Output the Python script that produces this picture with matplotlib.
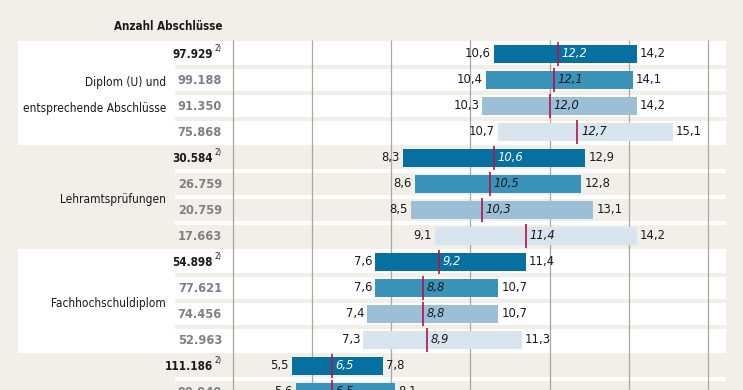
import matplotlib.pyplot as plt
from matplotlib.patches import Rectangle

# Daten (Alter in Jahren: Minimum, Median, Maximum)
counts = ['97.929', '99.188', '91.350', '75.868',
          '30.584', '26.759', '20.759', '17.663',
          '54.898', '77.621', '74.456', '52.963',
          '111.186', '99.940']
footnote_rows = [0, 4, 8, 12]
lows = [10.6, 10.4, 10.3, 10.7, 8.3, 8.6, 8.5, 9.1, 7.6, 7.6, 7.4, 7.3, 5.5, 5.6]
medians = [12.2, 12.1, 12.0, 12.7, 10.6, 10.5, 10.3, 11.4, 9.2, 8.8, 8.8, 8.9, 6.5, 6.5]
highs = [14.2, 14.1, 14.2, 15.1, 12.9, 12.8, 13.1, 14.2, 11.4, 10.7, 10.7, 11.3, 7.8, 8.1]
groups = [['Diplom (U) und', 'entsprechende Abschlüsse'],
          ['Lehramtsprüfungen'],
          ['Fachhochschuldiplom'],
          []]
header = 'Anzahl Abschlüsse'
grid_ticks = [4, 6, 8, 10, 12, 14, 16]

bg = '#f2efe9'
bar_colors = ['#0670a1', '#3a94ba', '#9bbfd6', '#d8e5ef']
median_color = '#b8104a'
grid_color = '#aaa7a2'

W, H = 743, 390
fig = plt.figure(figsize=(W / 100, H / 100), dpi=100, facecolor=bg)
ax = fig.add_axes([0, 0, 1, 1])
ax.set_facecolor(bg)
ax.axis('off')

# pixel -> data helpers (4 sits at x=232.7px, 39.63px per year; rows 26px apart, first at y=54px)
def xv(px):
    return 4 + (px - 232.7) / 39.63

def yv(py):
    return (py - 54) / 26.0

ax.set_xlim(xv(0), xv(W))
ax.set_ylim(yv(H), yv(0))

font = dict(family=['Liberation Sans Narrow', 'DejaVu Sans'], fontstretch='condensed')
fs = 9.3
n = len(lows)

# group panels and row separators
for g in range(4):
    top = 4 * g - 0.5
    panel = 'white' if g % 2 == 0 else bg
    sep = bg if g % 2 == 0 else 'white'
    ax.add_patch(Rectangle((xv(18), top), xv(726) - xv(18), 4, color=panel, zorder=0, lw=0))
    for k in range(1, 4):
        ax.add_patch(Rectangle((xv(175), top + k - 0.06), xv(726) - xv(175), 0.12,
                               color=sep, zorder=0.5, lw=0))

ax.vlines(grid_ticks, yv(40), yv(H), color=grid_color, lw=0.9, zorder=1)

for i in range(n):
    c = bar_colors[i % 4]
    ax.barh(i, highs[i] - lows[i], left=lows[i], height=0.69, color=c, zorder=2)
    ax.vlines(medians[i], i - 0.47, i + 0.47, color=median_color, lw=1.2, zorder=3)
    ax.text(lows[i] - 0.08, i, f'{lows[i]:.1f}'.replace('.', ','), ha='right', va='center',
            fontsize=fs, color='#1a1a1a', zorder=4, **font)
    ax.text(highs[i] + 0.08, i, f'{highs[i]:.1f}'.replace('.', ','), ha='left', va='center',
            fontsize=fs, color='#1a1a1a', zorder=4, **font)
    ax.text(medians[i] + 0.09, i, f'{medians[i]:.1f}'.replace('.', ','), ha='left', va='center',
            fontsize=fs, style='italic', color='white' if i % 4 == 0 else '#1a1a1a',
            zorder=4, **font)
    if i in footnote_rows:
        ax.text(xv(213), i, counts[i], ha='right', va='center', fontsize=8.4,
                fontweight='bold', color='#1a1a1a', **font)
        ax.text(xv(214), i - 0.2, '2)', ha='left', va='center', fontsize=5.5,
                color='#1a1a1a', **font)
    else:
        ax.text(xv(222), i, counts[i], ha='right', va='center', fontsize=9.2,
                fontweight='bold', color='#808080', **font)

for g, lines in enumerate(groups):
    if not lines:
        continue
    mid = 4 * g + 1.5
    for j, line in enumerate(lines):
        y = mid + (j - (len(lines) - 1) / 2) * 1.0 + 0.1
        ax.text(xv(166), y, line, ha='right', va='center', fontsize=8.6,
                color='#1a1a1a', **font)

ax.text(xv(222), yv(27), header, ha='right', va='center', fontsize=8.3,
        fontweight='bold', color='#1a1a1a', **font)

fig.savefig('out.png', dpi=100, facecolor=bg)
